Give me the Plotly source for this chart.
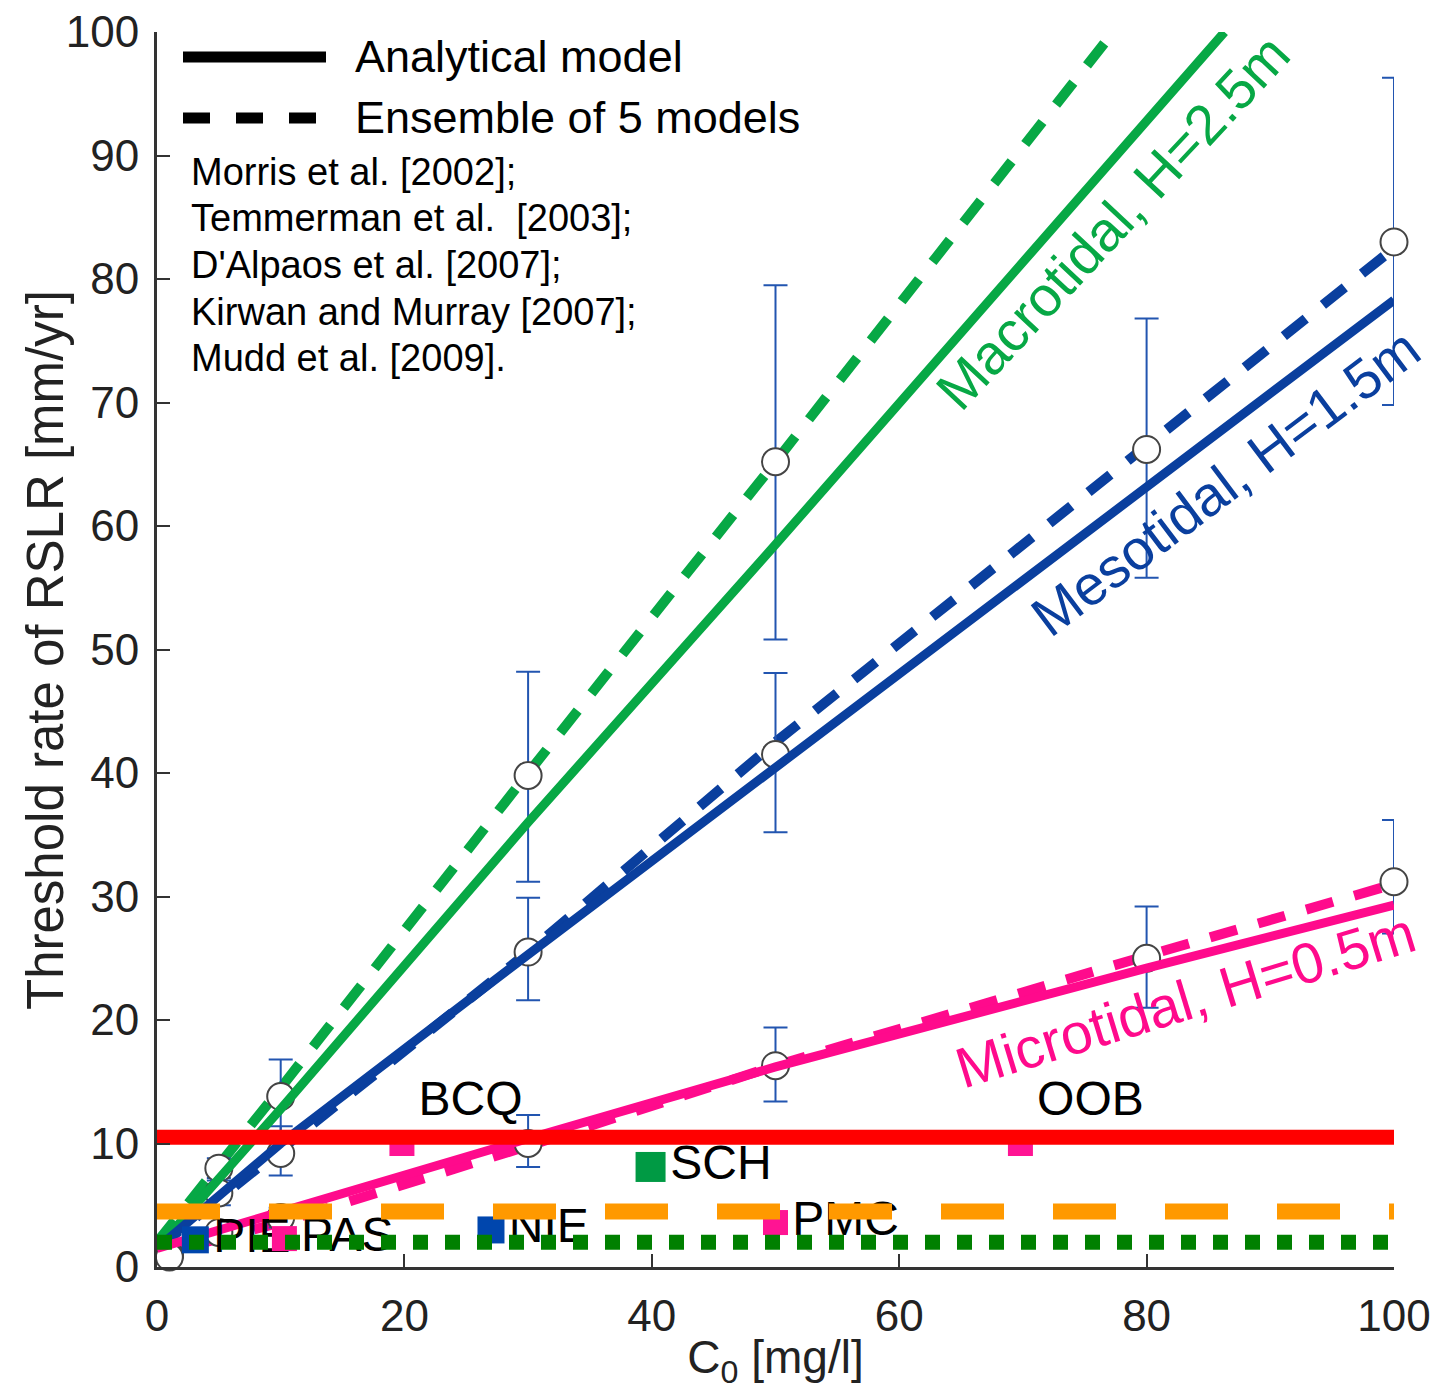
import plotly.graph_objects as go

# ---------------- data ----------------
model_x = [0, 10, 30, 50, 80, 100]
macro_x_solid = [0, 10, 30, 50, 86.3]
macro_solid = [1.5, 12.8, 36.0, 58.5, 100.0]
macro_x_dash = [0, 10, 30, 50, 77.3]
macro_dash = [2.0, 14.5, 40.0, 65.2, 100.0]
meso_solid = [1.5, 10.0, 25.3, 40.5, 63.3, 78.3]
meso_dash = [1.5, 9.5, 25.5, 42.5, 66.5, 82.5]
micro_solid = [1.5, 4.5, 10.4, 16.2, 24.2, 29.3]
micro_dash = [1.0, 3.6, 9.8, 16.3, 25.2, 31.0]

# ensemble points (mean and spread)
macro_pts_x = [1, 5, 10, 30, 50]
macro_pts_y = [1.0, 8.0, 13.8, 39.8, 65.2]
macro_err_up = [0.5, 0.8, 3.0, 8.4, 14.3]
macro_err_dn = [0.5, 0.8, 2.8, 8.6, 14.4]

meso_pts_x = [1, 5, 10, 30, 50, 80, 100]
meso_pts_y = [1.0, 6.0, 9.2, 25.5, 41.5, 66.2, 83.0]
meso_err_up = [0.5, 1.0, 2.2, 4.4, 6.6, 10.6, 13.3]
meso_err_dn = [0.5, 1.0, 1.8, 3.9, 6.3, 10.4, 13.2]

micro_pts_x = [1, 5, 10, 30, 50, 80, 100]
micro_pts_y = [0.8, 2.8, 4.0, 10.0, 16.3, 25.0, 31.2]
micro_err_up = [0.3, 0.5, 0.8, 2.3, 3.1, 4.2, 5.0]
micro_err_dn = [0.3, 0.5, 0.8, 1.9, 2.9, 4.0, 4.2]

# marsh stations
blue_sites = ["PIE", "NIE"]
blue_x = [3.1, 27.0]
blue_y = [2.2, 3.0]
pink_sites = ["PAS", "BCQ", "PMC", "OOB"]
pink_x = [10.3, 19.8, 50.0, 69.8]
pink_y = [2.3, 10.0, 3.6, 10.0]
green_sites = ["SCH"]
green_x = [39.9]
green_y = [8.1]

# observed RSLR reference levels
level_x = [0, 100]
red_level = [10.5, 10.5]
orange_level = [4.5, 4.5]
green_level = [2.0, 2.0]

x_ticks = [0, 20, 40, 60, 80, 100]
y_ticks = [0, 10, 20, 30, 40, 50, 60, 70, 80, 90, 100]

refs = ["Morris et al. [2002];", "Temmerman et al.  [2003];", "D'Alpaos et al. [2007];",
        "Kirwan and Murray [2007];", "Mudd et al. [2009]."]

# ---------------- style ----------------
FONT = "Liberation Sans, Arial, sans-serif"
GREEN = "#07a845"
BLUE = "#0a3f9e"
PINK = "#ff0a8c"
ERR = "#2255b0"

fig = go.Figure()

def dash_line(x, y, color):
    fig.add_trace(go.Scatter(x=x, y=y, mode="lines", line=dict(color=color, width=10, dash="28px,22px"),
                             showlegend=False, hoverinfo="skip", cliponaxis=True))

def solid_line(x, y, color):
    fig.add_trace(go.Scatter(x=x, y=y, mode="lines", line=dict(color=color, width=9),
                             showlegend=False, hoverinfo="skip", cliponaxis=True))

def pts(x, y, up, dn):
    fig.add_trace(go.Scatter(x=x, y=y, mode="markers",
                             marker=dict(symbol="circle", size=27, color="white",
                                         line=dict(color="#444444", width=2)),
                             error_y=dict(type="data", symmetric=False, array=up, arrayminus=dn,
                                          color=ERR, thickness=2, width=12),
                             showlegend=False, cliponaxis=False))

dash_line(macro_x_dash, macro_dash, GREEN)
dash_line(model_x, meso_dash, BLUE)
dash_line(model_x, micro_dash, PINK)
pts(macro_pts_x, macro_pts_y, macro_err_up, macro_err_dn)
pts(meso_pts_x, meso_pts_y, meso_err_up, meso_err_dn)
pts(micro_pts_x, micro_pts_y, micro_err_up, micro_err_dn)
solid_line(macro_x_solid, macro_solid, GREEN)
solid_line(model_x, meso_solid, BLUE)
solid_line(model_x, micro_solid, PINK)

def sites(x, y, names, color, size, positions):
    fig.add_trace(go.Scatter(x=x, y=y, mode="markers+text", text=names, textposition=positions,
                             marker=dict(symbol="square", size=size, color=color),
                             textfont=dict(family=FONT, size=48, color="black"),
                             showlegend=False, cliponaxis=False))

sites(blue_x, blue_y, blue_sites, "#0046ad", 27, ["middle right", "middle right"])
sites(pink_x, pink_y, pink_sites, "#ff1493", 25,
      ["middle right", "top right", "middle right", "top right"])
sites(green_x, green_y, green_sites, "#009a44", 30, ["middle right"])

fig.add_trace(go.Scatter(x=level_x, y=red_level, mode="lines", line=dict(color="#ff0000", width=15),
                         showlegend=False, cliponaxis=False))
fig.add_trace(go.Scatter(x=level_x, y=orange_level, mode="lines",
                         line=dict(color="#ff9900", width=16, dash="63px,49px"),
                         showlegend=False, cliponaxis=False))
fig.add_trace(go.Scatter(x=level_x, y=green_level, mode="lines",
                         line=dict(color="#008000", width=15, dash="15px,17px"),
                         showlegend=False, cliponaxis=False))

# pixel -> paper helpers (plot area: x 157..1394, y 32..1267)
def px(v):
    return (v - 157) / 1237.0

def py(v):
    return (1267 - v) / 1235.0

shapes = [
    dict(type="line", xref="paper", yref="paper", x0=px(183), x1=px(326), y0=py(57), y1=py(57),
         line=dict(color="black", width=11)),
    dict(type="line", xref="paper", yref="paper", x0=px(183), x1=px(322), y0=py(118), y1=py(118),
         line=dict(color="black", width=11, dash="27px,26px")),
]

annotations = [
    dict(text="Analytical model", x=px(353), y=py(57), xref="paper", yref="paper",
         xanchor="left", yanchor="middle", showarrow=False, font=dict(family=FONT, size=45, color="black")),
    dict(text="Ensemble of 5 models", x=px(353), y=py(118), xref="paper", yref="paper",
         xanchor="left", yanchor="middle", showarrow=False, font=dict(family=FONT, size=45, color="black")),
]
for i, r in enumerate(refs):
    annotations.append(dict(text=r, x=px(189), y=py(172 + 46.5 * i), xref="paper", yref="paper",
                            xanchor="left", yanchor="middle", showarrow=False,
                            font=dict(family=FONT, size=38, color="black")))

annotations += [
    dict(text="Macrotidal, H=2.5m", x=px(1112), y=py(222), xref="paper", yref="paper",
         xanchor="center", yanchor="middle",
         textangle=-47, showarrow=False, font=dict(family=FONT, size=56, color=GREEN)),
    dict(text="Mesotidal, H=1.5m", x=px(1225), y=py(482), xref="paper", yref="paper",
         xanchor="center", yanchor="middle",
         textangle=-37, showarrow=False, font=dict(family=FONT, size=56, color=BLUE)),
    dict(text="Microtidal, H=0.5m", x=px(1185), y=py(1000), xref="paper", yref="paper",
         xanchor="center", yanchor="middle",
         textangle=-17, showarrow=False, font=dict(family=FONT, size=57, color=PINK)),
    dict(text="Threshold rate of RSLR [mm/yr]", x=px(45), y=py(650), xref="paper", yref="paper",
         xanchor="center", yanchor="middle",
         textangle=-90, showarrow=False, font=dict(family=FONT, size=51, color="#222222")),
]

axis_common = dict(showgrid=False, zeroline=False, showline=True, linecolor="#333333", linewidth=3,
                   ticks="inside", ticklen=13, tickwidth=2, tickcolor="#333333",
                   tickfont=dict(family=FONT, size=44, color="#222222"), mirror=False)

fig.update_layout(
    width=1437, height=1390,
    margin=dict(l=157, r=43, t=32, b=123, autoexpand=False),
    paper_bgcolor="white", plot_bgcolor="white",
    shapes=shapes, annotations=annotations,
    xaxis=dict(range=[0, 100], tickvals=x_ticks, ticktext=[str(v) for v in x_ticks],
               title=dict(text="C<sub>0</sub> [mg/l]", font=dict(family=FONT, size=46, color="#222222"),
                          standoff=8),
               ticklabelstandoff=8, automargin=False, **axis_common),
    yaxis=dict(range=[0, 100], tickvals=y_ticks, ticktext=[str(v) for v in y_ticks],
               ticklabelstandoff=6, automargin=False, **axis_common),
)

fig.write_html("out.html")
